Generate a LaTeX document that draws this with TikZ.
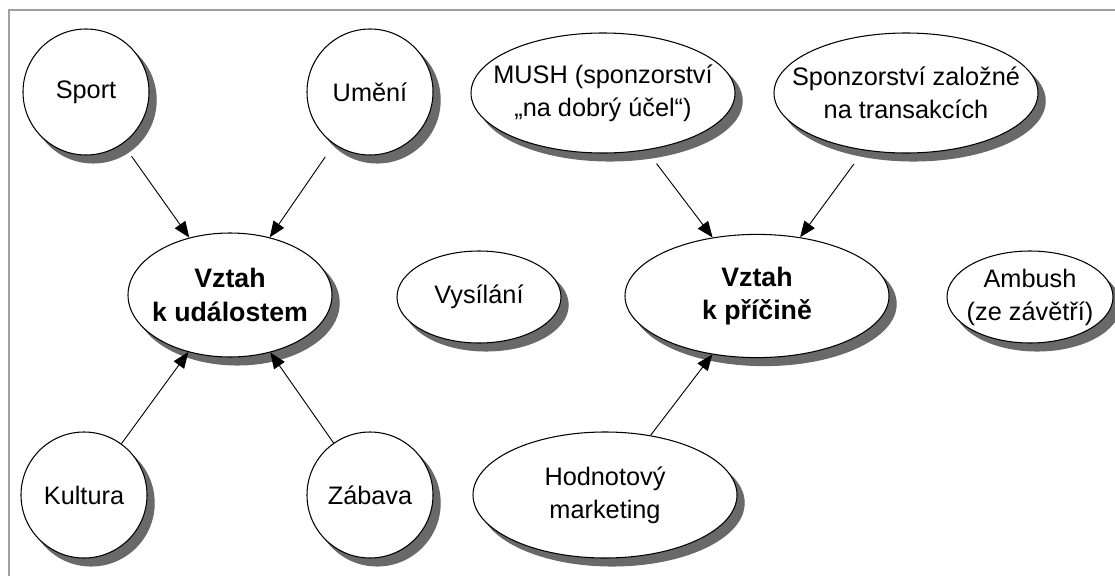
\documentclass[tikz,border=0pt]{standalone}
\usepackage{fontspec}
\setmainfont{Liberation Sans}
\usepackage{tikz}
\usetikzlibrary{shapes.geometric,arrows.meta}
\definecolor{shgray}{RGB}{105,105,105}
\definecolor{framegray}{RGB}{160,160,160}
\newcommand{\fsz}{\fontsize{18}{23.5}\selectfont}
\tikzset{
  bub/.style={ellipse, draw, fill=white, line width=0.75pt, inner sep=0pt},
  shad/.style={ellipse, fill=shgray, draw=shgray, line width=0.75pt, inner sep=0pt},
  txt/.style={align=center, font=\fsz},
  btxt/.style={align=center, font=\fontsize{19}{24}\selectfont\bfseries},
  arr/.style={-{Triangle[length=0.4cm,width=0.32cm]}, line width=0.65pt},
}
% name, position, width, height, text style, text
\newcommand{\bubble}[6]{%
  \node[shad, minimum width=#3, minimum height=#4] at ([shift={(0.18,-0.2)}]#2) {};
  \node[bub, minimum width=#3, minimum height=#4, label={[#5]center:#6}] (#1) at (#2) {};
}

\begin{document}
\begin{tikzpicture}
    \useasboundingbox (0,0) rectangle (27.875,-14.4);
    \draw[framegray, line width=1.2pt] (0.225,-15) -- (0.225,-0.25) -- (28.5,-0.25);
    % events side
    \bubble{sport}{2.15,-2.3}{3.15cm}{3.15cm}{txt}{Sport}
    \bubble{umeni}{9.25,-2.3}{3.15cm}{3.15cm}{txt}{Umění}
    \bubble{kultura}{2.1,-12.375}{3.15cm}{3.15cm}{txt}{Kultura}
    \bubble{zabava}{9.25,-12.375}{3.15cm}{3.15cm}{txt}{Zábava}
    \bubble{vztahU}{5.75,-7.375}{5.1cm}{3.1cm}{btxt}{Vztah\\k událostem}
    \bubble{vysilani}{11.975,-7.425}{4.1cm}{2.3cm}{txt}{Vysílání}
    % cause side
    \bubble{mush}{15.075,-2.325}{6.6cm}{3cm}{txt}{MUSH (sponzorství\\„na dobrý účel“)}
    \bubble{sponz}{22.65,-2.325}{6.6cm}{3cm}{txt}{Sponzorství založné\\na transakcích}
    \bubble{vztahP}{18.925,-7.4}{6.6cm}{3.08cm}{btxt}{Vztah\\k příčině}
    \bubble{ambush}{25.75,-7.425}{4.15cm}{2.3cm}{txt}{Ambush\\(ze závětří)}
    \bubble{hodnot}{15.125,-12.375}{6.6cm}{3.15cm}{txt}{Hodnotový\\marketing}
    \draw[arr, shorten <=0.38cm] (sport) -- (vztahU);
    \draw[arr, shorten <=0.38cm] (umeni) -- (vztahU);
    \draw[arr] (kultura) -- (vztahU);
    \draw[arr] (zabava) -- (vztahU);
    \draw[arr, shorten <=0.42cm] (mush) -- (vztahP);
    \draw[arr, shorten <=0.42cm] (sponz) -- (vztahP);
    \draw[arr] (hodnot) -- (vztahP);
\end{tikzpicture}
\end{document}
